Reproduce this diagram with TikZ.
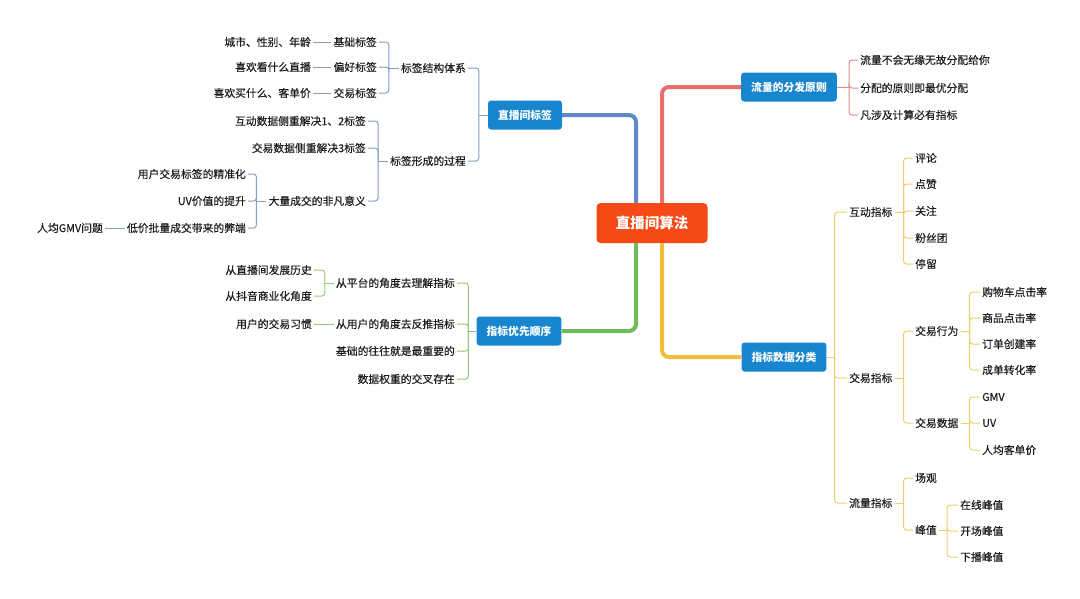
\documentclass[tikz,border=0pt]{standalone}
\usepackage{fontspec}
\setmainfont{Noto Sans CJK SC}
\newfontfamily\medfont[FakeBold=0.35]{Noto Sans CJK SC}
\usepackage{xcolor}
\usetikzlibrary{arrows.meta}

\definecolor{rootred}{RGB}{246,74,22}
\definecolor{boxblue}{RGB}{24,134,206}
\definecolor{ink}{RGB}{30,30,30}
\definecolor{bline}{RGB}{96,136,196}
\definecolor{bthin}{RGB}{128,160,196}
\definecolor{rline}{RGB}{230,112,104}
\definecolor{rthin}{RGB}{226,136,136}
\definecolor{gline}{RGB}{110,188,90}
\definecolor{gthin}{RGB}{150,200,120}
\definecolor{yline}{RGB}{242,190,58}
\definecolor{ythin}{RGB}{240,206,110}

\begin{document}
\begin{tikzpicture}[
    x=1pt, y=-1pt,
    rootbox/.style={fill=rootred, rounded corners=4pt, text=white, minimum width=111pt, minimum height=40pt, font=\fontsize{14.5}{16}\selectfont\bfseries},
    topic/.style={fill=boxblue, rounded corners=3pt, text=white, minimum height=29pt, inner xsep=10pt, font=\fontsize{10.8}{12}\selectfont\bfseries},
    leaf/.style={text=ink, inner sep=2pt, font=\fontsize{10.8}{12}\medfont},
    lleaf/.style={leaf, anchor=east},
    rleaf/.style={leaf, anchor=west},
    trunk/.style={line width=4pt, rounded corners=7pt},
    bl/.style={bthin, line width=1pt, rounded corners=3pt},
    rl/.style={rthin, line width=1pt, rounded corners=3pt},
    gl/.style={gthin, line width=1pt, rounded corners=3pt},
    yl/.style={ythin, line width=1pt, rounded corners=3pt},
]
\useasboundingbox (0,0) rectangle (1080,598);

% main topics
\node[rootbox] (root) at (652,223) {直播间算法};
\node[topic] (tagbox) at (525,115) {直播间标签};
\node[topic] (flowbox) at (789,87) {流量的分发原则};
\node[topic] (prio) at (519,331) {指标优先顺序};
\node[topic] (metric) at (784,357) {指标数据分类};

\draw[trunk, bline] (tagbox.east) -| ([xshift=-16pt]root.north);
\draw[trunk, rline] ([xshift=10pt]root.north) |- (flowbox.west);
\draw[trunk, gline] ([xshift=-16pt]root.south) |- (prio.east);
\draw[trunk, yline] ([xshift=10pt]root.south) |- (metric.west);

% 直播间标签
\node[lleaf] (struct) at (468,68) {标签结构体系};
\node[lleaf] (form) at (468,161) {标签形成的过程};
\node[lleaf] (base) at (379,42) {基础标签};
\node[lleaf] (pref) at (379,67) {偏好标签};
\node[lleaf] (trade) at (379,93) {交易标签};
\node[lleaf] (city) at (313,42) {城市、性别、年龄};
\node[lleaf] (watch) at (313,67) {喜欢看什么直播};
\node[lleaf] (buy) at (313,93) {喜欢买什么、客单价};
\node[lleaf] (inter) at (368,121) {互动数据侧重解决1、2标签};
\node[lleaf] (tdata) at (368,148) {交易数据侧重解决3标签};
\node[lleaf] (bulk) at (368,201) {大量成交的非凡意义};
\node[lleaf] (precise) at (248,174) {用户交易标签的精准化};
\node[lleaf] (uv) at (248,201) {UV价值的提升};
\node[lleaf] (cheap) at (248,228) {低价批量成交带来的弊端};
\node[lleaf] (gmvq) at (105,228) {人均GMV问题};

\draw[bl] (tagbox.west) -- ++(-9,0) coordinate (tb);
\foreach \c in {struct,form} \draw[bl] (tb) |- (\c.east);
\draw[bl] (struct.west) -- ++(-10,0) coordinate (sb);
\foreach \c in {base,pref,trade} \draw[bl] (sb) |- (\c.east);
\draw[bl] (form.west) -- ++(-10,0) coordinate (fb);
\foreach \c in {inter,tdata,bulk} \draw[bl] (fb) |- (\c.east);
\draw[bl] (bulk.west) -- ++(-10,0) coordinate (kb);
\foreach \c in {precise,uv,cheap} \draw[bl] (kb) |- (\c.east);
\draw[bl] (base.west) -- (city.east);
\draw[bl] (pref.west) -- (watch.east);
\draw[bl] (trade.west) -- (buy.east);
\draw[bl] (cheap.west) -- (gmvq.east);

% 流量的分发原则
\node[rleaf] (rule1) at (858,60) {流量不会无缘无故分配给你};
\node[rleaf] (rule2) at (858,88) {分配的原则即最优分配};
\node[rleaf] (rule3) at (858,115) {凡涉及计算必有指标};
\draw[rl] (flowbox.east) -- ++(12,0) coordinate (wb);
\foreach \c in {rule1,rule2,rule3} \draw[rl] (wb) |- (\c.west);

% 指标优先顺序
\node[lleaf] (platform) at (457,283) {从平台的角度去理解指标};
\node[lleaf] (user) at (457,324) {从用户的角度去反推指标};
\node[lleaf] (basic) at (457,351) {基础的往往就是最重要的};
\node[lleaf] (weight) at (457,379) {数据权重的交叉存在};
\node[lleaf] (history) at (314,270) {从直播间发展历史};
\node[lleaf] (douyin) at (314,296) {从抖音商业化角度};
\node[lleaf] (habit) at (314,324) {用户的交易习惯};
\draw[gl] (prio.west) -- ++(-8,0) coordinate (pb);
\foreach \c in {platform,user,basic,weight} \draw[gl] (pb) |- (\c.east);
\draw[gl] (platform.west) -- ++(-9,0) coordinate (lb);
\foreach \c in {history,douyin} \draw[gl] (lb) |- (\c.east);
\draw[gl] (user.west) -- (habit.east);

% 指标数据分类
\node[rleaf] (hudong) at (847,212) {互动指标};
\node[rleaf] (jiaoyi) at (847,378) {交易指标};
\node[rleaf] (liuliang) at (847,503) {流量指标};
\node[rleaf] (comment) at (913,158) {评论};
\node[rleaf] (like) at (913,184) {点赞};
\node[rleaf] (follow) at (913,211) {关注};
\node[rleaf] (fans) at (913,238) {粉丝团};
\node[rleaf] (stay) at (913,264) {停留};
\node[rleaf] (behav) at (913,331) {交易行为};
\node[rleaf] (tdat) at (913,423) {交易数据};
\node[rleaf] (cart) at (980,292) {购物车点击率};
\node[rleaf] (item) at (980,318) {商品点击率};
\node[rleaf] (order) at (980,344) {订单创建率};
\node[rleaf] (conv) at (980,370) {成单转化率};
\node[rleaf] (gmv) at (980,397) {GMV};
\node[rleaf] (uvr) at (980,423) {UV};
\node[rleaf] (arpu) at (980,450) {人均客单价};
\node[rleaf] (views) at (913,478) {场观};
\node[rleaf] (peak) at (913,530) {峰值};
\node[rleaf] (online) at (958,505) {在线峰值};
\node[rleaf] (open) at (958,531) {开场峰值};
\node[rleaf] (close) at (958,557) {下播峰值};

\draw[yl] (metric.east) -- ++(8,0) coordinate (mb);
\foreach \c in {hudong,jiaoyi,liuliang} \draw[yl] (mb) |- (\c.west);
\draw[yl] (hudong.east) -- ++(9,0) coordinate (hb);
\foreach \c in {comment,like,follow,fans,stay} \draw[yl] (hb) |- (\c.west);
\draw[yl] (jiaoyi.east) -- ++(9,0) coordinate (jb);
\foreach \c in {behav,tdat} \draw[yl] (jb) |- (\c.west);
\draw[yl] (behav.east) -- ++(9,0) coordinate (vb);
\foreach \c in {cart,item,order,conv} \draw[yl] (vb) |- (\c.west);
\draw[yl] (tdat.east) -- ++(9,0) coordinate (db);
\foreach \c in {gmv,uvr,arpu} \draw[yl] (db) |- (\c.west);
\draw[yl] (liuliang.east) -- ++(9,0) coordinate (qb);
\foreach \c in {views,peak} \draw[yl] (qb) |- (\c.west);
\draw[yl] (peak.east) -- ++(8,0) coordinate (eb);
\foreach \c in {online,open,close} \draw[yl] (eb) |- (\c.west);
\end{tikzpicture}
\end{document}
